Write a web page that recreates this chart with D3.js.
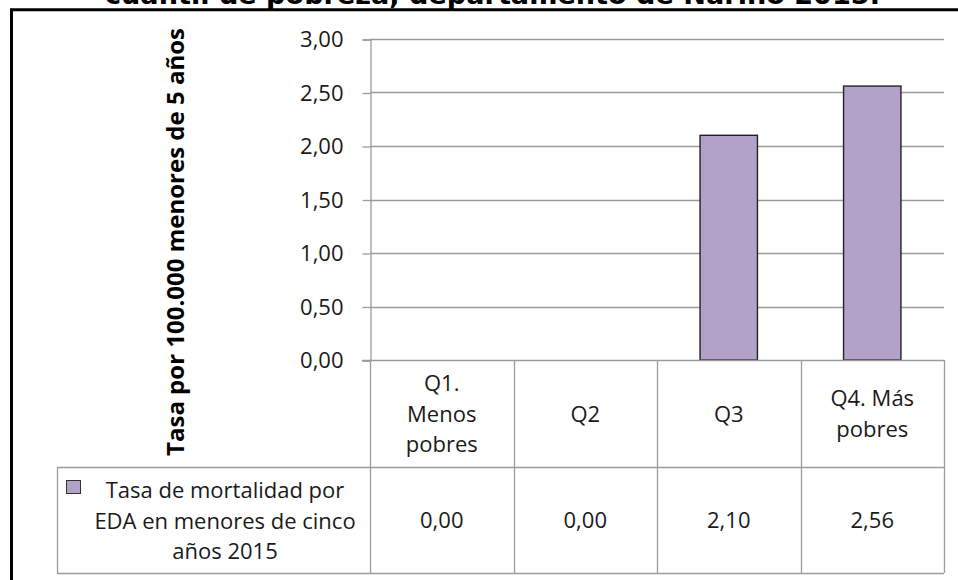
<!DOCTYPE html>
<html>
<head>
<meta charset="utf-8">
<script src="https://cdn.jsdelivr.net/npm/d3@7"></script>
<style>
  html, body { margin: 0; padding: 0; background: #fff; }
  svg { display: block; }
  text { font-family: "Open Sans", Lato, sans-serif; fill: #1a1a1a; }
</style>
</head>
<body>
<svg id="chart" width="958" height="580"></svg>
<script>
// Mortality rate from acute diarrhoeal disease (EDA), children under five, by poverty quartile
const categories = ["Q1. Menos pobres", "Q2", "Q3", "Q4. Más pobres"];
const categoryLines = [["Q1.", "Menos", "pobres"], ["Q2"], ["Q3"], ["Q4. Más", "pobres"]];
const values = [0.00, 0.00, 2.10, 2.56];
const yTicks = [0, 0.5, 1, 1.5, 2, 2.5, 3];
const seriesLines = ["Tasa de mortalidad por", "EDA en menores de cinco", "años 2015"];
const yTitle = "Tasa por 100.000 menores de 5 años";
const titleLine = "cuantil de pobreza, departamento de Nariño 2015.";

const fmt = v => v.toFixed(2).replace(".", ",");

const svg = d3.select("#chart");
const plotLeft = 370, plotRight = 944, plotTop = 39, plotBottom = 360;
const headerBottom = 467, tableBottom = 573, tableLeft = 57;
const gridColor = "#9c9c9c";
const barFill = "#b3a2c7";
const fs = "22px";

const x = d3.scaleBand().domain(categories).range([plotLeft, plotRight]).paddingInner(0).paddingOuter(0);
const y = d3.scaleLinear().domain([0, 3]).range([plotBottom, plotTop]);

// Title (second line, clipped by the top edge) and frame
svg.append("text")
  .attr("x", 105).attr("y", 4)
  .attr("textLength", 775).attr("lengthAdjust", "spacingAndGlyphs")
  .style("font-family", "'DejaVu Sans', Verdana, sans-serif")
  .style("font-weight", "bold").style("font-size", "27px").style("fill", "#000")
  .text(titleLine);
svg.append("path")
  .attr("d", `M11.5,580 V9.7 H958`)
  .attr("fill", "none").attr("stroke", "#000").attr("stroke-width", 3);

// Gridlines
svg.append("g").selectAll("line").data(yTicks.filter(t => t > 0)).join("line")
  .attr("x1", plotLeft).attr("x2", plotRight)
  .attr("y1", d => Math.round(y(d)) + 0.5).attr("y2", d => Math.round(y(d)) + 0.5)
  .attr("stroke", gridColor).attr("stroke-width", 1.3);

// Y axis
const yAxis = svg.append("g")
  .attr("transform", `translate(${plotLeft + 0.5},0.5)`)
  .call(d3.axisLeft(y).tickValues(yTicks).tickFormat(fmt).tickSize(8).tickPadding(19));
yAxis.select(".domain").attr("stroke", gridColor).attr("stroke-width", 1.3);
yAxis.selectAll(".tick line").attr("stroke", gridColor).attr("stroke-width", 1.3);
yAxis.selectAll(".tick text")
  .style("font-family", "'Open Sans', sans-serif").style("font-size", fs).attr("fill", "#1a1a1a");

// Y axis title
svg.append("text")
  .attr("transform", `translate(184,242) rotate(-90)`)
  .attr("text-anchor", "middle")
  .style("font-weight", "bold").style("font-size", "24px").style("fill", "#000")
  .text(yTitle);

// Bars
const bw = x.bandwidth() * 0.4;
svg.append("g").selectAll("rect").data(values).join("rect")
  .attr("x", (d, i) => x(categories[i]) + (x.bandwidth() - bw) / 2)
  .attr("width", bw)
  .attr("y", d => y(d))
  .attr("height", d => y(0) - y(d))
  .attr("fill", barFill).attr("stroke", d => d > 0 ? "#222" : "none").attr("stroke-width", 1.4);

// Data table
const tbl = svg.append("g").attr("stroke", gridColor).attr("stroke-width", 1.3).attr("fill", "none");
tbl.append("line").attr("x1", plotLeft - 8).attr("x2", plotRight).attr("y1", plotBottom + 0.5).attr("y2", plotBottom + 0.5);
tbl.append("line").attr("x1", tableLeft).attr("x2", plotRight).attr("y1", headerBottom + 0.5).attr("y2", headerBottom + 0.5);
tbl.append("line").attr("x1", tableLeft).attr("x2", plotRight).attr("y1", tableBottom + 0.5).attr("y2", tableBottom + 0.5);
tbl.append("line").attr("x1", tableLeft + 0.5).attr("x2", tableLeft + 0.5).attr("y1", headerBottom).attr("y2", tableBottom);
const colEdges = categories.map(c => x(c)).concat([plotRight]);
tbl.selectAll("line.col").data(colEdges).join("line").attr("class", "col")
  .attr("x1", d => Math.round(d) + 0.5).attr("x2", d => Math.round(d) + 0.5)
  .attr("y1", plotBottom).attr("y2", tableBottom);

// Header labels
const lh = 30.5;
categories.forEach((c, i) => {
  const lines = categoryLines[i];
  const cy = 413.5;
  const t = svg.append("text").attr("text-anchor", "middle").style("font-size", fs);
  lines.forEach((ln, k) => {
    t.append("tspan").attr("x", x(c) + x.bandwidth() / 2)
      .attr("y", cy + 8 + (k - (lines.length - 1) / 2) * lh).text(ln);
  });
});

// Values row
svg.append("g").selectAll("text").data(values).join("text")
  .attr("x", (d, i) => x(categories[i]) + x.bandwidth() / 2)
  .attr("y", 528).attr("text-anchor", "middle").style("font-size", fs)
  .text(fmt);

// Legend cell
svg.append("rect").attr("x", 66.5).attr("y", 480.5).attr("width", 14).attr("height", 13)
  .attr("fill", barFill).attr("stroke", "#333").attr("stroke-width", 1);
const lt = svg.append("text").attr("text-anchor", "middle").style("font-size", fs);
seriesLines.forEach((ln, k) => {
  lt.append("tspan").attr("x", 225).attr("y", 498 + k * 30.5).text(ln);
});
</script>
</body>
</html>
